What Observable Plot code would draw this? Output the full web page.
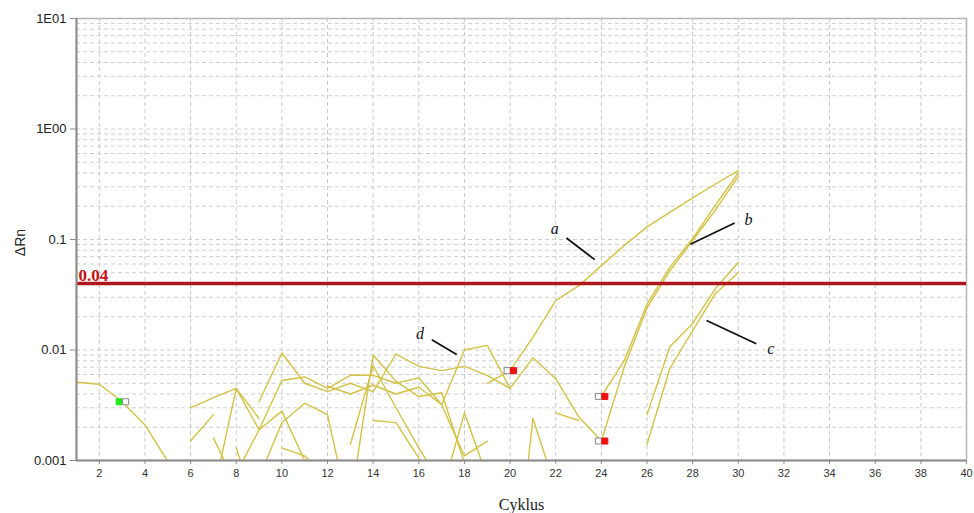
<!DOCTYPE html>
<html>
<head>
<meta charset="utf-8">
<script src="https://cdn.jsdelivr.net/npm/d3@7"></script>
<script src="https://cdn.jsdelivr.net/npm/@observablehq/plot@0.6"></script>
<style>
  body { margin: 0; background: #fff; }
</style>
</head>
<body>
<div id="chart"></div>
<script>
// Amplification plot: ΔRn per well against PCR cycle (log scale).
const _ = null; // no positive reading in that cycle

const cycles = [1,2,3,4,5,6,7,8,9,10,11,12,13,14,15,16,17,18,19,20,21,22,23,24,25,26,27,28,29,30];

//               1      2      3      4      5       6      7      8       9      10     11     12     13     14     15     16      17     18      19     20      21     22      23     24     25     26    27    28    29    30
const well01 = [.0051, .0049, .0034, .0021, .00098, .0005, _,     _,      _,     _,     _,     _,     _,     _,     _,     _,      _,     _,      _,     _,      _,     _,      _,     _,     _,     _,    _,    _,    _,    _];
const well02 = [_,     _,     _,     _,     _,      .0030, .0037, .0045,  .0024, _,     _,     _,     _,     _,     _,     _,      _,     _,      _,     _,      _,     _,      _,     _,     _,     _,    _,    _,    _,    _];
const well03 = [_,     _,     _,     _,     _,      .0015, .0026, _,      _,     _,     _,     _,     _,     _,     _,     _,      _,     _,      _,     _,      _,     _,      _,     _,     _,     _,    _,    _,    _,    _];
const well04 = [_,     _,     _,     _,     _,      _,     .0016, .0006,  _,     _,     _,     _,     _,     _,     _,     _,      _,     _,      _,     _,      _,     _,      _,     _,     _,     _,    _,    _,    _,    _];
const well05 = [_,     _,     _,     _,     _,      _,     .0005, .0045,  .0019, .0028, .0010, .0005, _,     _,     _,     _,      _,     _,      _,     _,      _,     _,      _,     _,     _,     _,    _,    _,    _,    _];
const well06 = [_,     _,     _,     _,     _,      _,     _,     .0013,  .0003, _,     _,     _,     _,     _,     _,     _,      _,     _,      _,     _,      _,     _,      _,     _,     _,     _,    _,    _,    _,    _];
const well07 = [_,     _,     _,     _,     _,      _,     _,     .00076, .0019, .0053, .0057, .0045, .0059, .0059, .0050, .0056,  .0032, .0011,  .0015, _,      _,     _,      _,     _,     _,     _,    _,    _,    _,    _];
const well08 = [_,     _,     _,     _,     _,      _,     _,     _,      .0034, .0094, .0050, .0042, .0050, .0042, .0092, .0071,  .0065, .0071,  .0059, .0045,  _,     _,      _,     _,     _,     _,    _,    _,    _,    _];
const well09 = [_,     _,     _,     _,     _,      _,     _,     _,      .0007, .0022, .0033, .0026, .0003, _,     _,     _,      _,     _,      _,     _,      _,     _,      _,     _,     _,     _,    _,    _,    _,    _];
const well10 = [_,     _,     _,     _,     _,      _,     _,     _,      _,     .0013, .0011, .0007, _,     _,     _,     _,      _,     _,      _,     _,      _,     _,      _,     _,     _,     _,    _,    _,    _,    _];
const well11 = [_,     _,     _,     _,     _,      _,     _,     _,      _,     _,     _,     _,     .0004, .0090, .0052, .0038,  .0041, .00095, _,     _,      _,     _,      _,     _,     _,     _,    _,    _,    _,    _];
const well12 = [_,     _,     _,     _,     _,      _,     _,     _,      _,     _,     _,     .0047, .0040, .0048, .0040, .0046,  .0032, .0100,  .0110, .0045,  .0085, .0055,  .0025, .0015, .0070, .024, .052, .098, .185, .370];
const well13 = [_,     _,     _,     _,     _,      _,     _,     _,      _,     _,     _,     _,     _,     .0023, .0022, .00105, .0004, _,      _,     _,      _,     _,      _,     _,     _,     _,    _,    _,    _,    _];
const well14 = [_,     _,     _,     _,     _,      _,     _,     _,      _,     _,     _,     _,     _,     _,     _,     _,      .0005, .0027,  .0007, _,      _,     _,      _,     _,     _,     _,    _,    _,    _,    _];
const well15 = [_,     _,     _,     _,     _,      _,     _,     _,      _,     _,     _,     _,     _,     _,     _,     _,      _,     _,      .0050, .0065,  .013,  .028,   .038,  .058,  .088,  .130, .176, .238, .318, .420];
const well16 = [_,     _,     _,     _,     _,      _,     _,     _,      _,     _,     _,     _,     _,     _,     _,     _,      _,     _,      _,     .00003, .0024, .00056, _,     _,     _,     _,    _,    _,    _,    _];
const well17 = [_,     _,     _,     _,     _,      _,     _,     _,      _,     _,     _,     _,     _,     _,     _,     _,      _,     _,      _,     _,      _,     .0027,  .0023, _,     _,     _,    _,    _,    _,    _];
const well18 = [_,     _,     _,     _,     _,      _,     _,     _,      _,     _,     _,     _,     .0014, .0072, .0030, .0013,  .0006, _,      _,     _,      _,     _,      _,     _,     _,     _,    _,    _,    _,    _];
const well19 = [_,     _,     _,     _,     _,      _,     _,     _,      _,     _,     _,     _,     _,     _,     _,     _,      _,     _,      _,     _,      _,     _,      _,     .0038, .0080, .026, .056, .102, .205, .400];
const well20 = [_,     _,     _,     _,     _,      _,     _,     _,      _,     _,     _,     _,     _,     _,     _,     _,      _,     _,      _,     _,      _,     _,      _,     _,     _,     .0026, .0107, .0174, .036, .062];
const well21 = [_,     _,     _,     _,     _,      _,     _,     _,      _,     _,     _,     _,     _,     _,     _,     _,      _,     _,      _,     _,      _,     _,      _,     _,     _,     .0014, .0068, .0150, .0325, .050];

const wells = [well01, well02, well03, well04, well05, well06, well07, well08, well09, well10, well11,
               well12, well13, well14, well15, well16, well17, well18, well19, well20, well21];

// Threshold
const threshold = 0.04;
const thresholdLabel = "0.04";

// Baseline / Ct flags placed on the traces
const flagCycles = [3, 20, 24, 24];
const flagValues = [0.0034, 0.0065, 0.0038, 0.0015];
const flagFill   = ["#1ee81e", "#ee1111", "#ee1111", "#ee1111"];

// Curve labels with their leader lines
const noteText   = ["a", "b", "c", "d"];
const noteCycle  = [21.96, 30.45, 31.42, 16.05];
const noteValue  = [0.124, 0.150, 0.0103, 0.0141];
const leadFromCycle = [22.47, 29.84, 28.61, 16.57];
const leadFromValue = [0.1032, 0.141, 0.0185, 0.0124];
const leadToCycle   = [23.71, 27.90, 30.79, 17.66];
const leadToValue   = [0.0657, 0.0905, 0.0114, 0.00912];

// Axis ticks and grid
const xTicks = [2,4,6,8,10,12,14,16,18,20,22,24,26,28,30,32,34,36,38,40];
const xGrid  = [2,4,6,8,10,12,14,16,18,20,22,24,26,28,30,32,34,36,38];
const yTicks = [0.001, 0.01, 0.1, 1, 10];
const yTickLabels = ["0.001", "0.01", "0.1", "1E00", "1E01"];
const yGrid = [0.002,0.003,0.004,0.005,0.006,0.007,0.008,0.009,0.01,
               0.02,0.03,0.04,0.05,0.06,0.07,0.08,0.09,0.1,
               0.2,0.3,0.4,0.5,0.6,0.7,0.8,0.9,1,
               2,3,4,5,6,7,8,9];

// Long table for the line mark
const rows = [];
wells.forEach((w, i) => {
  w.forEach((v, j) => {
    if (v !== null) rows.push({well: i, cycle: cycles[j], value: v});
  });
});

const flags = flagCycles.map((c, i) => ({cycle: c, value: flagValues[i], fill: flagFill[i], green: i === 0}));
const notes = noteText.map((t, i) => ({
  text: t, cycle: noteCycle[i], value: noteValue[i],
  x1: leadFromCycle[i], y1: leadFromValue[i], x2: leadToCycle[i], y2: leadToValue[i]
}));

const traceColor = "#d3c245";
const serif = "'Liberation Serif', 'Times New Roman', serif";
const sans = "'Liberation Sans', Arial, sans-serif";

const chart = Plot.plot({
  width: 974,
  height: 513,
  marginLeft: 76,
  marginRight: 8,
  marginTop: 18,
  marginBottom: 53,
  style: {fontFamily: sans, background: "#fff", color: "#333"},
  x: {domain: [1, 40]},
  y: {type: "log", domain: [0.001, 10]},
  marks: [
    // dashed grid
    Plot.ruleX(xGrid, {stroke: "#c8c8c8", strokeDasharray: "4,3", strokeWidth: 1}),
    Plot.ruleY(yGrid, {stroke: "#cfcfcf", strokeDasharray: "4,3", strokeWidth: 1}),
    Plot.frame({stroke: "#b4b4b4", strokeWidth: 1.5}),

    // amplification traces
    Plot.line(rows, {x: "cycle", y: "value", z: "well", stroke: traceColor, strokeWidth: 1.4, clip: true}),

    // threshold
    Plot.ruleY([threshold], {stroke: "#b0161e", strokeWidth: 3.6}),
    Plot.text([threshold], {y: d => d, frameAnchor: "left", text: () => thresholdLabel, textAnchor: "start",
      dx: 2, dy: -8, fill: "#c41212", fontWeight: "bold", fontFamily: serif, fontSize: 17}),

    // flags: left and right halves
    Plot.dot(flags, {x: "cycle", y: "value", symbol: "square", r: 3.4, dx: -3,
      fill: d => d.green ? d.fill : "#fff", stroke: d => d.green ? d.fill : "#888", strokeWidth: 1}),
    Plot.dot(flags, {x: "cycle", y: "value", symbol: "square", r: 3.4, dx: 3.5,
      fill: d => d.green ? "#fff" : d.fill, stroke: d => d.green ? "#888" : d.fill, strokeWidth: 1}),

    // curve labels
    Plot.link(notes, {x1: "x1", y1: "y1", x2: "x2", y2: "y2", stroke: "#111", strokeWidth: 1.8}),
    Plot.text(notes, {x: "cycle", y: "value", text: "text", fontStyle: "italic", fontFamily: serif, fontSize: 16, fill: "#111"}),

    // axes
    Plot.ruleX([1], {stroke: "#8c8c8c", strokeWidth: 2}),
    Plot.ruleY([0.001], {stroke: "#8c8c8c", strokeWidth: 2}),
    Plot.axisX(xTicks, {tickSize: 4, tickPadding: 5, fontSize: 11, stroke: "#8c8c8c", fill: "#333", label: null}),
    Plot.axisY(yTicks, {tickSize: 6, tickPadding: 4, fontSize: 13, stroke: "#8c8c8c", fill: "#222", label: null,
      tickFormat: d => yTickLabels[yTicks.indexOf(d)]}),

    // axis titles
    Plot.text(["ΔRn"], {frameAnchor: "left", dx: -56, dy: 3, rotate: -90, textAnchor: "middle", lineAnchor: "middle",
      fontSize: 14, fill: "#222", fontFamily: sans}),
    Plot.text(["Cyklus"], {frameAnchor: "bottom", dy: 44, textAnchor: "middle", lineAnchor: "middle",
      fontSize: 16, fill: "#222", fontFamily: serif})
  ]
});

document.getElementById("chart").appendChild(chart);
</script>
</body>
</html>
